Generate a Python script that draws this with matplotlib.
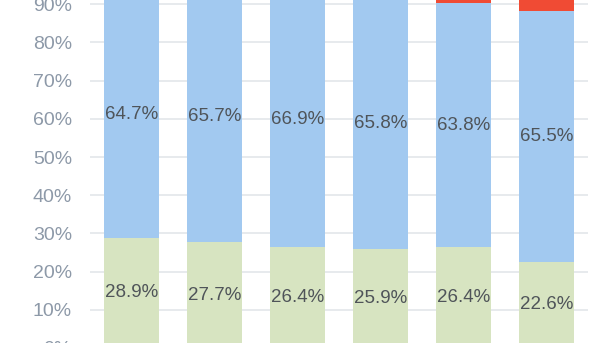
from matplotlib import pyplot as plt
import numpy as np

COLOR_GREEN = "#d7e4c1"
COLOR_BLUE = "#a2c9f0"
COLOR_RED = "#f04b34"
COLOR_TEXT = "#4f5459"
COLOR_TICK = "#8d99a8"

green_share = [28.9, 27.7, 26.4, 25.9, 26.4, 22.6]
blue_share = [64.7, 65.7, 66.9, 65.8, 63.8, 65.5]
red_share = [6.4, 6.6, 6.7, 8.3, 9.8, 11.9]
y_ticks = [0, 10, 20, 30, 40, 50, 60, 70, 80, 90, 100]

fig = plt.figure(figsize=(5.99, 3.43), dpi=100)
# axes runs from 0% (just below the figure) to 100% (above it)
ax = fig.add_axes([90 / 599, -5 / 343, 498 / 599, 382 / 343])

x = np.arange(len(green_share))
green = np.array(green_share)
blue = np.array(blue_share)
red = np.array(red_share)
width = 0.66

ax.bar(x, green, width, color=COLOR_GREEN, zorder=2)
ax.bar(x, blue, width, bottom=green, color=COLOR_BLUE, zorder=2)
ax.bar(x, red, width, bottom=green + blue, color=COLOR_RED, zorder=2)

for i in range(len(x)):
    ax.text(x[i], green[i] / 2, f"{green[i]:.1f}%", ha="center", va="center",
            fontsize=13.5, color=COLOR_TEXT, family="Liberation Sans", zorder=3)
    ax.text(x[i], green[i] + blue[i] / 2, f"{blue[i]:.1f}%", ha="center", va="center",
            fontsize=13.5, color=COLOR_TEXT, family="Liberation Sans", zorder=3)

ax.set_xlim(-0.5, len(x) - 0.5)
ax.set_ylim(0, 100)
ax.set_yticks(y_ticks)
ax.set_yticklabels([f"{t}%" for t in y_ticks], fontsize=14, color=COLOR_TICK,
                   family="Liberation Sans")
ax.set_xticks([])
ax.tick_params(axis="y", length=0, pad=13)
ax.yaxis.grid(True, color="#e3e6ea", lw=1.2, zorder=0)
for side in ax.spines.values():
    side.set_visible(False)

fig.savefig("out.png", dpi=100)
